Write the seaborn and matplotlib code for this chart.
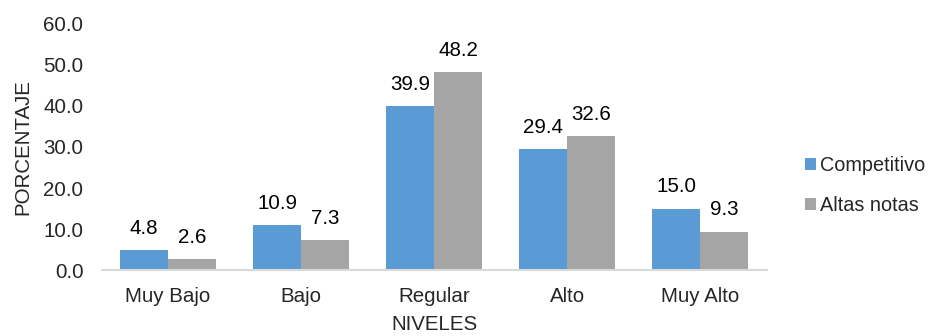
import matplotlib
matplotlib.use("Agg")
import matplotlib.pyplot as plt
import seaborn as sns
import pandas as pd

niveles = ["Muy Bajo", "Bajo", "Regular", "Alto", "Muy Alto"]
competitivo = [4.8, 10.9, 39.9, 29.4, 15.0]
altas_notas = [2.6, 7.3, 48.2, 32.6, 9.3]
series = ["Competitivo", "Altas notas"]
y_ticks = [0, 10, 20, 30, 40, 50, 60]

df = pd.DataFrame({
    "Nivel": niveles * 2,
    "Serie": [series[0]] * len(niveles) + [series[1]] * len(niveles),
    "Valor": competitivo + altas_notas,
})

sns.set_theme(style="white")
plt.rcParams["font.family"] = ["Liberation Sans", "DejaVu Sans"]
FS = 14.8

fig = plt.figure(figsize=(9.34, 3.36), dpi=100)
ax = fig.add_axes([0.1087, 0.1964, 0.712, 0.7322])

sns.barplot(data=df, x="Nivel", y="Valor", hue="Serie", order=niveles,
            hue_order=series, palette=["#5B9BD5", "#A5A5A5"],
            width=0.72, saturation=1, linewidth=0, ax=ax, legend=True)

for cont in ax.containers:
    ax.bar_label(cont, fmt="%.1f", padding=9, fontsize=FS, color="#000000")

ax.set_ylim(0, 60)
ax.set_yticks(y_ticks)
ax.set_yticklabels([f"{v:.1f}" for v in y_ticks], fontsize=FS)
ax.tick_params(axis="x", labelsize=FS, length=0, pad=12)
ax.tick_params(axis="y", length=0, pad=13)
ax.set_xlim(-0.5, len(niveles) - 0.5)
for s in ["top", "right", "left"]:
    ax.spines[s].set_visible(False)
ax.spines["bottom"].set_color("#D9D9D9")
ax.spines["bottom"].set_linewidth(1.5)

ax.set_xlabel("NIVELES", fontsize=FS, labelpad=7)
ax.set_ylabel("PORCENTAJE", fontsize=FS, labelpad=8)

ax.legend(loc="center left", bbox_to_anchor=(1.058, 0.345), frameon=False,
          fontsize=14.3, handlelength=0.55, handleheight=0.55, handletextpad=0.2,
          labelspacing=1.05, borderaxespad=0, borderpad=0, title=None)

fig.savefig("out.png", dpi=100)
